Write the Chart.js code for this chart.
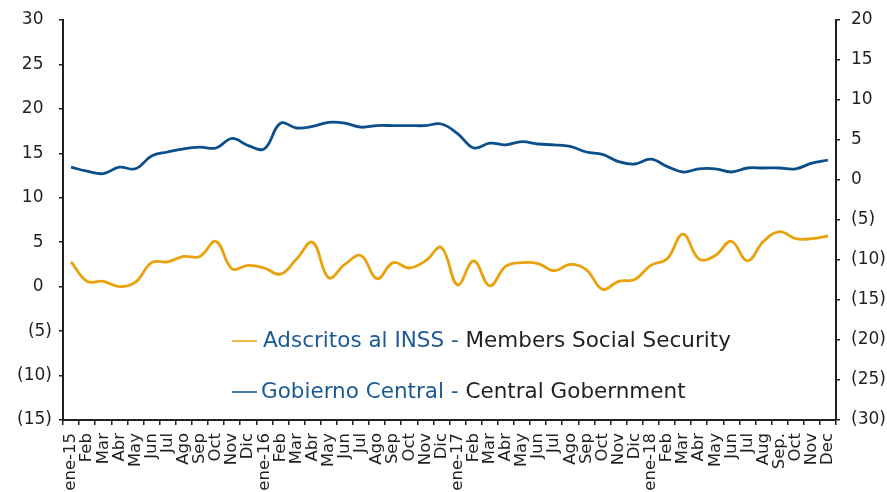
<!DOCTYPE html>
<html>
<head>
<meta charset="utf-8">
<script src="https://cdn.jsdelivr.net/npm/chart.js@4/dist/chart.umd.min.js"></script>
<style>
html,body{margin:0;padding:0;background:#fff;}
#wrap{position:relative;width:887px;height:492px;}
</style>
</head>
<body>
<div id="wrap"><canvas id="c" width="887" height="492"></canvas></div>
<script>
const categories = [
  "ene-15","Feb","Mar","Abr","May","Jun","Jul","Ago","Sep","Oct","Nov","Dic",
  "ene-16","Feb","Mar","Abr","May","Jun","Jul","Ago","Sep","Oct","Nov","Dic",
  "ene-17","Feb","Mar","Abr","May","Jun","Jul","Ago","Sep","Oct","Nov","Dic",
  "ene-18","Feb","Mar","Abr","May","Jun","Jul","Aug","Sep.","Oct","Nov","Dec"
];
// Left axis
const inssValues = [
  2.8,0.6,0.6,0.0,0.5,2.7,2.8,3.4,3.4,5.1,2.0,2.4,
  2.1,1.4,3.1,5.0,1.0,2.5,3.5,0.9,2.7,2.1,2.9,4.4,
  0.2,2.9,0.1,2.3,2.7,2.6,1.8,2.5,1.9,-0.3,0.6,0.8,
  2.4,3.1,5.9,3.1,3.5,5.1,2.9,5.1,6.2,5.4,5.4,5.7
];
// Right axis
const gobValues = [
  1.6,1.1,0.8,1.6,1.4,3.0,3.5,3.9,4.1,4.0,5.2,4.3,
  3.9,7.1,6.5,6.7,7.2,7.1,6.6,6.8,6.8,6.8,6.8,7.0,
  5.8,4.0,4.6,4.4,4.8,4.5,4.4,4.2,3.5,3.2,2.3,2.0,
  2.6,1.7,1.0,1.4,1.4,1.0,1.5,1.5,1.5,1.4,2.1,2.5
];
const leftTicks = [30,25,20,15,10,5,0,-5,-10,-15];
const rightTicks = [20,15,10,5,0,-5,-10,-15,-20,-25,-30];
const legendSpanish = ["Adscritos al INSS - ","Gobierno Central - "];
const legendEnglish = ["Members Social Security","Central Gobernment"];

const YELLOW = "#E9A20C";
const BLUE = "#0B4F8A";
const TEXTBLUE = "#1B5A95";
const DARK = "#231F20";
const FONT = "'DejaVu Sans', Verdana, sans-serif";

const fmtLeft = v => v < 0 ? "(" + Math.abs(v) + ")" : String(v) + "\u2002";
const fmtRight = v => v < 0 ? "(" + Math.abs(v) + ")" : String(v);

const legendPlugin = {
  id: "customLegend",
  afterDraw(chart) {
    const ctx = chart.ctx;
    const rows = [
      {color: YELLOW, y: 341, lx0: 232, lx1: 257, tx: 263},
      {color: BLUE, y: 392, lx0: 232, lx1: 257, tx: 261}
    ];
    ctx.save();
    ctx.font = "21.5px " + FONT;
    ctx.textBaseline = "middle";
    rows.forEach((r, i) => {
      ctx.strokeStyle = r.color;
      ctx.lineWidth = 1.5;
      ctx.beginPath();
      ctx.moveTo(r.lx0, r.y);
      ctx.lineTo(r.lx1, r.y);
      ctx.stroke();
      ctx.fillStyle = TEXTBLUE;
      ctx.fillText(legendSpanish[i], r.tx, r.y);
      const w = ctx.measureText(legendSpanish[i]).width;
      ctx.fillStyle = DARK;
      ctx.fillText(legendEnglish[i], r.tx + w, r.y);
    });
    ctx.restore();
  }
};

new Chart(document.getElementById("c"), {
  type: "line",
  data: {
    labels: categories,
    datasets: [
      {label: "Adscritos al INSS", data: inssValues, yAxisID: "yL", borderColor: YELLOW,
       borderWidth: 2.8, pointRadius: 0, tension: 0.4, fill: false},
      {label: "Gobierno Central", data: gobValues, yAxisID: "yR", borderColor: BLUE,
       borderWidth: 2.8, pointRadius: 0, tension: 0.4, fill: false}
    ]
  },
  options: {
    responsive: false,
    animation: false,
    devicePixelRatio: 1,
    layout: {padding: {top: 20, bottom: 0, left: 0, right: 0}},
    plugins: {legend: {display: false}, tooltip: {enabled: false}},
    scales: {
      x: {
        offset: true,
        grid: {display: true, offset: true, drawOnChartArea: false, drawTicks: true, tickLength: 5, color: DARK, lineWidth: 1.5},
        border: {display: true, color: DARK, width: 2},
        ticks: {autoSkip: false, maxRotation: 90, minRotation: 90, padding: 8, color: DARK, font: {family: FONT, size: 16.5}},
        afterFit(s) { s.height = 72; s.paddingLeft = 0; s.paddingRight = 0; }
      },
      yL: {
        position: "left",
        min: -15, max: 30,
        afterBuildTicks(s) { s.ticks = leftTicks.map(v => ({value: v})); },
        grid: {display: true, drawOnChartArea: false, drawTicks: true, tickLength: 4, color: DARK, lineWidth: 1.5},
        border: {display: true, color: DARK, width: 2},
        ticks: {padding: 7, color: DARK, font: {family: FONT, size: 17}, callback: v => fmtLeft(v)},
        afterFit(s) { s.width = 63; s.paddingTop = 0; s.paddingBottom = 0; }
      },
      yR: {
        position: "right",
        min: -30, max: 20,
        afterBuildTicks(s) { s.ticks = rightTicks.map(v => ({value: v})); },
        grid: {display: true, drawOnChartArea: false, drawTicks: true, tickLength: 4, color: DARK, lineWidth: 1.5},
        border: {display: true, color: DARK, width: 2},
        ticks: {padding: 11, color: DARK, font: {family: FONT, size: 17}, callback: v => fmtRight(v)},
        afterFit(s) { s.width = 51; s.paddingTop = 0; s.paddingBottom = 0; }
      }
    }
  },
  plugins: [legendPlugin]
});
</script>
</body>
</html>
